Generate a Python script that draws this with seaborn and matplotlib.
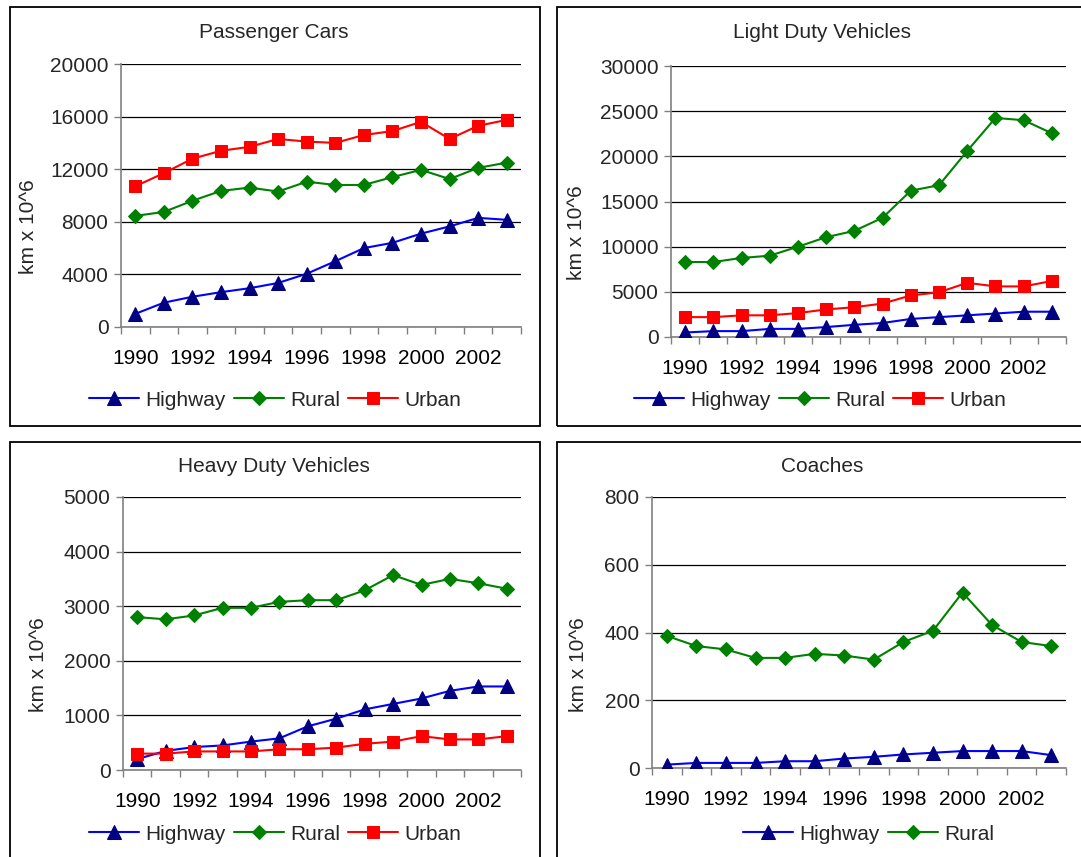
import matplotlib
matplotlib.use("Agg")
import matplotlib.pyplot as plt
from matplotlib.patches import Rectangle
from matplotlib.ticker import FixedLocator, NullFormatter
import seaborn as sns
import pandas as pd

years = list(range(1990, 2004))
year_labels = ["1990", "1992", "1994", "1996", "1998", "2000", "2002"]

# Passenger Cars
pc_highway = [1000, 1850, 2300, 2650, 2950, 3350, 4050, 5000, 6000, 6400, 7100, 7650, 8300, 8150]
pc_rural = [8450, 8750, 9600, 10350, 10600, 10300, 11050, 10800, 10800, 11400, 11950, 11250, 12100, 12500]
pc_urban = [10700, 11700, 12800, 13400, 13700, 14300, 14100, 14000, 14600, 14900, 15600, 14300, 15300, 15750]

# Light Duty Vehicles
ld_highway = [500, 650, 650, 900, 900, 1100, 1350, 1550, 2000, 2200, 2400, 2600, 2800, 2800]
ld_rural = [8300, 8300, 8750, 9000, 10000, 11050, 11750, 13200, 16200, 16800, 20600, 24250, 24000, 22550]
ld_urban = [2200, 2200, 2400, 2400, 2650, 3050, 3300, 3700, 4600, 4950, 6000, 5600, 5600, 6200]

# Heavy Duty Vehicles
hd_highway = [200, 350, 420, 450, 520, 580, 800, 940, 1110, 1210, 1310, 1450, 1530, 1530]
hd_rural = [2800, 2760, 2830, 2970, 2970, 3080, 3110, 3110, 3290, 3570, 3390, 3500, 3420, 3320]
hd_urban = [300, 300, 340, 340, 340, 380, 380, 410, 480, 520, 620, 560, 560, 620]

# Coaches
co_highway = [10, 15, 15, 15, 20, 20, 28, 33, 40, 45, 50, 50, 50, 38]
co_rural = [390, 360, 350, 325, 325, 337, 332, 320, 372, 405, 518, 422, 372, 360]

titles = ["Passenger Cars", "Light Duty Vehicles", "Heavy Duty Vehicles", "Coaches"]
ylabel = "km x 10^6"
series_names = ["Highway", "Rural", "Urban"]

sns.set_theme(style="white")
plt.rcParams["font.family"] = ["Liberation Sans", "DejaVu Sans"]

W, H = 1081, 857
fig = plt.figure(figsize=(W / 100, H / 100), dpi=100)
fig.patch.set_facecolor("white")

styles = {
    "Highway": dict(color="#0000FF", marker="^", mfc="#000080", mec="#000080", ms=9.5),
    "Rural": dict(color="#008000", marker="D", mfc="#008000", mec="#008000", ms=7),
    "Urban": dict(color="#FF0000", marker="s", mfc="#FF0000", mec="#FF0000", ms=8.5),
}

def px_axes(l, r, t, b):
    return fig.add_axes([l / W, 1 - b / H, (r - l) / W, (b - t) / H])

panels = [
    dict(rect=(121, 521, 64, 327), data=[pc_highway, pc_rural, pc_urban], ymax=20000, ystep=4000,
         box=(10, 7, 540, 426), title_xy=(274, 33), leg_xy=(275, 400), ylab_xy=(29, 227)),
    dict(rect=(671, 1066, 66, 337), data=[ld_highway, ld_rural, ld_urban], ymax=30000, ystep=5000,
         box=(557, 7, 1095, 426), title_xy=(822, 33), leg_xy=(820, 400), ylab_xy=(577, 233)),
    dict(rect=(123, 521, 497, 770), data=[hd_highway, hd_rural, hd_urban], ymax=5000, ystep=1000,
         box=(10, 442, 540, 880), title_xy=(274, 467), leg_xy=(275, 834), ylab_xy=(38, 665)),
    dict(rect=(652, 1066, 497, 768), data=[co_highway, co_rural], ymax=800, ystep=200,
         box=(557, 442, 1095, 880), title_xy=(822, 467), leg_xy=(869, 834), ylab_xy=(579, 665)),
]

FS = 15
for i, p in enumerate(panels):
    # panel border
    x0, y0, x1, y1 = p["box"]
    fig.patches.append(Rectangle((x0 / W, 1 - y1 / H), (x1 - x0) / W, (y1 - y0) / H,
                                 transform=fig.transFigure, fill=False, ec="black", lw=1.3, zorder=0))
    ax = px_axes(*p["rect"])
    ax.set_facecolor("none")
    for name, vals in zip(series_names, p["data"]):
        st = styles[name]
        df = pd.DataFrame({"pos": list(range(len(years))), "val": vals})
        sns.lineplot(data=df, x="pos", y="val", ax=ax, color=st["color"], marker=st["marker"],
                     markerfacecolor=st["mfc"], markeredgecolor=st["mec"], markersize=st["ms"],
                     linewidth=1.5, label=name, legend=False, zorder=3)
    ax.set_xlim(-0.5, len(years) - 0.5)
    ax.set_ylim(0, p["ymax"])
    ax.set_yticks(list(range(0, p["ymax"] + 1, p["ystep"])))
    ax.set_yticklabels([str(v) for v in range(0, p["ymax"] + 1, p["ystep"])], fontsize=FS)
    ax.set_xticks(list(range(0, len(years), 2)))
    ax.set_xticklabels(year_labels, fontsize=FS)
    ax.xaxis.set_minor_locator(FixedLocator([k - 0.5 for k in range(len(years) + 1)]))
    ax.xaxis.set_minor_formatter(NullFormatter())
    ax.tick_params(axis="x", which="major", length=0, pad=16, colors="black")
    ax.tick_params(axis="x", which="minor", length=5, width=1, color="#808080", direction="out", bottom=True)
    ax.tick_params(axis="y", which="major", length=5, width=1, color="#808080", direction="out", pad=4, left=True)
    ax.yaxis.grid(True, color="black", linewidth=0.9)
    ax.xaxis.grid(False)
    ax.set_axisbelow(True)
    for s in ["top", "right"]:
        ax.spines[s].set_visible(False)
    for s in ["left", "bottom"]:
        ax.spines[s].set_visible(True)
        ax.spines[s].set_color("#808080")
        ax.spines[s].set_linewidth(1.2)
    ax.set_xlabel("")
    ax.set_ylabel("")
    fig.text(p["title_xy"][0] / W, 1 - p["title_xy"][1] / H, titles[i], ha="center", va="center", fontsize=FS)
    fig.text(p["ylab_xy"][0] / W, 1 - p["ylab_xy"][1] / H, ylabel, ha="center", va="center",
             rotation=90, fontsize=FS)
    handles, labels = ax.get_legend_handles_labels()
    fig.legend(handles, labels, loc="center", bbox_to_anchor=(p["leg_xy"][0] / W, 1 - p["leg_xy"][1] / H),
               ncol=len(handles), frameon=False, fontsize=FS, handlelength=2.4, handletextpad=0.3,
               columnspacing=0.4, borderaxespad=0)

fig.savefig("out.png", dpi=100, facecolor="white")
